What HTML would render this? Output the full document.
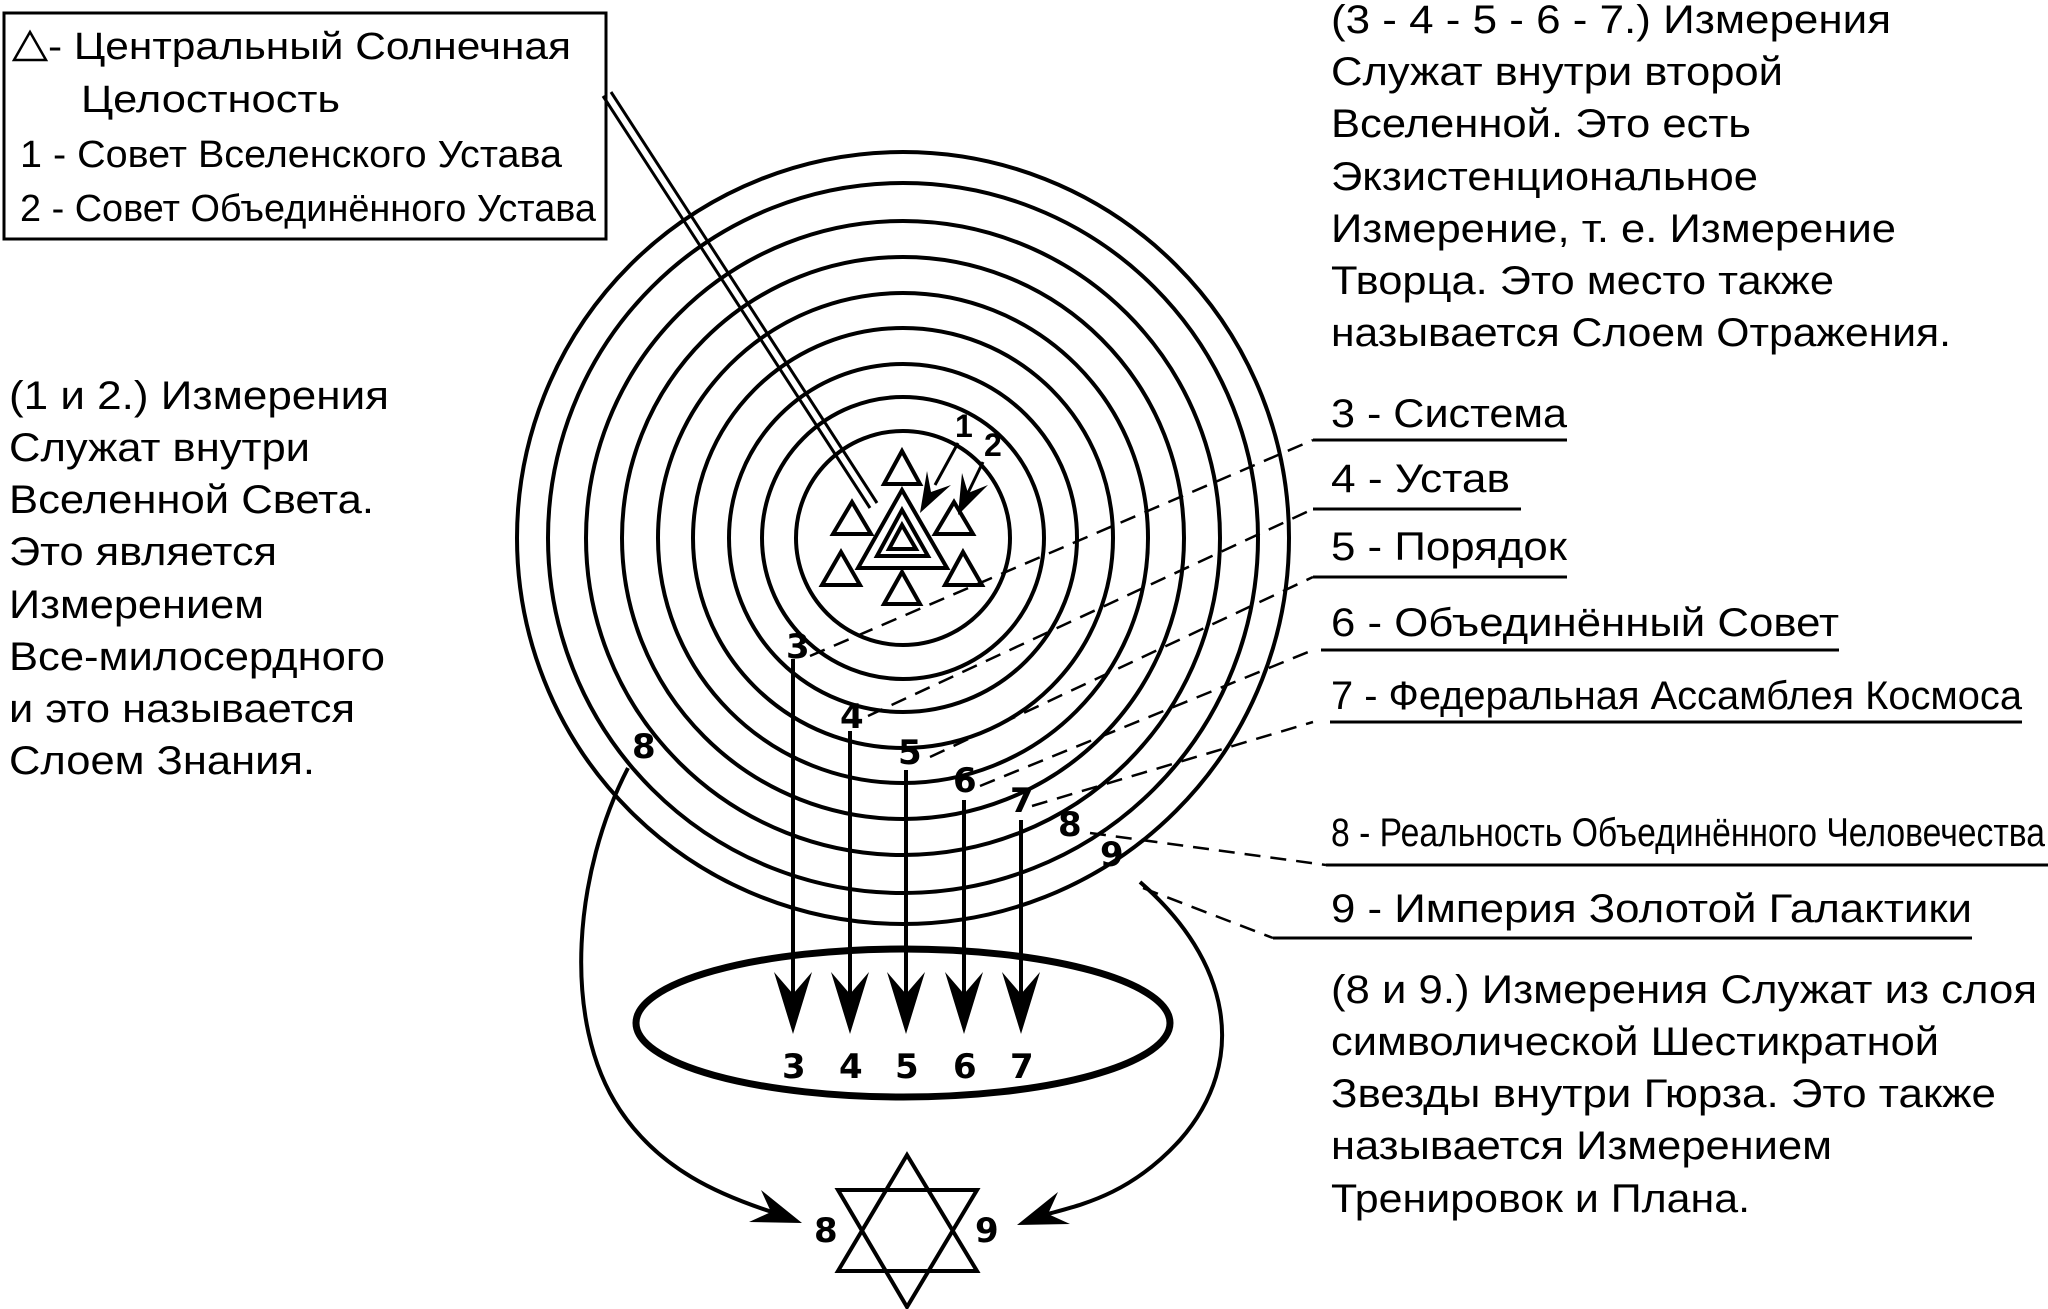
<!DOCTYPE html>
<html><head><meta charset="utf-8"><style>
html,body{margin:0;padding:0;background:#fff}
svg{display:block}
text{font-family:"Liberation Sans",sans-serif;fill:#000}
.t{font-size:40px}
.lg{font-size:38px}
.n{font-size:34px;font-weight:bold;font-family:"DejaVu Sans","Liberation Sans",sans-serif}
</style></head><body>
<svg width="2048" height="1309" viewBox="0 0 2048 1309" xmlns="http://www.w3.org/2000/svg">
<g fill="none" stroke="#000" stroke-width="4">
<circle cx="903" cy="538" r="107"/>
<circle cx="903" cy="538" r="141"/>
<circle cx="903" cy="538" r="174"/>
<circle cx="903" cy="538" r="210"/>
<circle cx="903" cy="538" r="245"/>
<circle cx="903" cy="538" r="281"/>
<circle cx="903" cy="538" r="317"/>
<circle cx="903" cy="538" r="355"/>
<circle cx="903" cy="538" r="386"/>
</g>
<rect x="4" y="13" width="602" height="226" fill="#fff" stroke="#000" stroke-width="3"/>
<polygon points="30,32 14,60 46,60" fill="none" stroke="#000" stroke-width="2.5"/>
<text class="lg" x="48" y="59" textLength="523" lengthAdjust="spacingAndGlyphs">- Центральный Солнечная</text>
<text class="lg" x="81" y="112" textLength="259" lengthAdjust="spacingAndGlyphs">Целостность</text>
<text class="lg" x="20" y="167" textLength="542" lengthAdjust="spacingAndGlyphs">1 - Совет Вселенского Устава</text>
<text class="lg" x="20" y="221" textLength="576" lengthAdjust="spacingAndGlyphs">2 - Совет Объединённого Устава</text>
<g stroke="#000" stroke-width="3">
<line x1="603" y1="96" x2="870" y2="508"/>
<line x1="611" y1="92" x2="877" y2="503"/>
</g>
<g fill="none" stroke="#000" stroke-width="4">
<polygon points="902,490 858,568 947,568"/>
<polygon points="902,510 877,556 928,556"/>
<polygon points="902,525 889,549 916,549"/>
<polygon points="902,451 884,484 920,484"/>
<polygon points="852,502 833,534 871,534"/>
<polygon points="954,502 935,534 973,534"/>
<polygon points="841,552 822,585 860,585"/>
<polygon points="963,552 945,585 982,585"/>
<polygon points="902,572 884,604 920,604"/>
</g>
<g stroke="#000" stroke-width="3"><line x1="958" y1="443" x2="935" y2="485"/><line x1="983" y1="462" x2="966" y2="497"/></g>
<polygon points="920,513 951,485 931,492 927,471" fill="#000"/>
<polygon points="958,515 988,485 968,493 962,473" fill="#000"/>
<text x="955" y="437" style="font-size:32px;font-weight:bold">1</text>
<text x="984" y="456" style="font-size:32px;font-weight:bold">2</text>
<g stroke="#000" stroke-width="2.5" stroke-dasharray="16,10" fill="none">
<line x1="810" y1="656" x2="1313" y2="440"/>
<line x1="868" y1="716" x2="1313" y2="509"/>
<line x1="930" y1="757" x2="1313" y2="577"/>
<line x1="980" y1="786" x2="1313" y2="650"/>
<line x1="1032" y1="806" x2="1313" y2="722"/>
<line x1="1090" y1="833" x2="1326" y2="865"/>
<line x1="1143" y1="888" x2="1273" y2="938"/>
</g>
<g stroke="#000" stroke-width="3">
<line x1="1313" y1="440" x2="1567" y2="440"/>
<line x1="1313" y1="509" x2="1521" y2="509"/>
<line x1="1313" y1="577" x2="1567" y2="577"/>
<line x1="1321" y1="650" x2="1839" y2="650"/>
<line x1="1330" y1="722" x2="2022" y2="722"/>
<line x1="1326" y1="865" x2="2048" y2="865"/>
<line x1="1273" y1="938" x2="1972" y2="938"/>
</g>
<text class="t" x="1331" y="427" textLength="236" lengthAdjust="spacingAndGlyphs">3 - Система</text>
<text class="t" x="1331" y="492" textLength="179" lengthAdjust="spacingAndGlyphs">4 - Устав</text>
<text class="t" x="1331" y="560" textLength="236" lengthAdjust="spacingAndGlyphs">5 - Порядок</text>
<text class="t" x="1331" y="636" textLength="508" lengthAdjust="spacingAndGlyphs">6 - Объединённый Совет</text>
<text class="t" x="1331" y="709" textLength="691" lengthAdjust="spacingAndGlyphs">7 - Федеральная Ассамблея Космоса</text>
<text class="t" x="1331" y="846" textLength="714" lengthAdjust="spacingAndGlyphs">8 - Реальность Объединённого Человечества</text>
<text class="t" x="1331" y="922" textLength="641" lengthAdjust="spacingAndGlyphs">9 - Империя Золотой Галактики</text>
<text class="t" x="1331" y="33" textLength="560" lengthAdjust="spacingAndGlyphs">(3 - 4 - 5 - 6 - 7.) Измерения</text>
<text class="t" x="1331" y="85" textLength="452" lengthAdjust="spacingAndGlyphs">Служат внутри второй</text>
<text class="t" x="1331" y="137" textLength="420" lengthAdjust="spacingAndGlyphs">Вселенной. Это есть</text>
<text class="t" x="1331" y="190" textLength="427" lengthAdjust="spacingAndGlyphs">Экзистенциональное</text>
<text class="t" x="1331" y="242" textLength="565" lengthAdjust="spacingAndGlyphs">Измерение, т. е. Измерение</text>
<text class="t" x="1331" y="294" textLength="503" lengthAdjust="spacingAndGlyphs">Творца. Это место также</text>
<text class="t" x="1331" y="346" textLength="620" lengthAdjust="spacingAndGlyphs">называется Слоем Отражения.</text>
<text class="t" x="9" y="409" textLength="380" lengthAdjust="spacingAndGlyphs">(1 и 2.) Измерения</text>
<text class="t" x="9" y="461" textLength="301" lengthAdjust="spacingAndGlyphs">Служат внутри</text>
<text class="t" x="9" y="513" textLength="365" lengthAdjust="spacingAndGlyphs">Вселенной Света.</text>
<text class="t" x="9" y="565" textLength="268" lengthAdjust="spacingAndGlyphs">Это является</text>
<text class="t" x="9" y="618" textLength="255" lengthAdjust="spacingAndGlyphs">Измерением</text>
<text class="t" x="9" y="670" textLength="376" lengthAdjust="spacingAndGlyphs">Все-милосердного</text>
<text class="t" x="9" y="722" textLength="346" lengthAdjust="spacingAndGlyphs">и это называется</text>
<text class="t" x="9" y="774" textLength="306" lengthAdjust="spacingAndGlyphs">Слоем Знания.</text>
<text class="t" x="1331" y="1003" textLength="706" lengthAdjust="spacingAndGlyphs">(8 и 9.) Измерения Служат из слоя</text>
<text class="t" x="1331" y="1055" textLength="608" lengthAdjust="spacingAndGlyphs">символической Шестикратной</text>
<text class="t" x="1331" y="1107" textLength="665" lengthAdjust="spacingAndGlyphs">Звезды внутри Гюрза. Это также</text>
<text class="t" x="1331" y="1159" textLength="501" lengthAdjust="spacingAndGlyphs">называется Измерением</text>
<text class="t" x="1331" y="1212" textLength="419" lengthAdjust="spacingAndGlyphs">Тренировок и Плана.</text>
<text class="n" x="786" y="658">3</text>
<text class="n" x="840" y="728">4</text>
<text class="n" x="898" y="764">5</text>
<text class="n" x="953" y="792">6</text>
<text class="n" x="1010" y="812">7</text>
<text class="n" x="1058" y="836">8</text>
<text class="n" x="1100" y="866">9</text>
<text class="n" x="632" y="758">8</text>
<ellipse cx="903" cy="1023" rx="267" ry="74" fill="none" stroke="#000" stroke-width="7"/>
<g stroke="#000" stroke-width="4">
<line x1="793" y1="659" x2="793" y2="995"/>
<line x1="850" y1="731" x2="850" y2="995"/>
<line x1="906" y1="770" x2="906" y2="995"/>
<line x1="964" y1="800" x2="964" y2="995"/>
<line x1="1021" y1="820" x2="1021" y2="995"/>
</g>
<g fill="#000">
<polygon points="793,1034 774,972 793,994 812,972"/>
<polygon points="850,1034 831,972 850,994 869,972"/>
<polygon points="906,1034 887,972 906,994 925,972"/>
<polygon points="964,1034 945,972 964,994 983,972"/>
<polygon points="1021,1034 1002,972 1021,994 1040,972"/>
</g>
<text class="n" x="782" y="1078">3</text>
<text class="n" x="839" y="1078">4</text>
<text class="n" x="895" y="1078">5</text>
<text class="n" x="953" y="1078">6</text>
<text class="n" x="1010" y="1078">7</text>
<g fill="none" stroke="#000" stroke-width="4">
<path d="M628,768 C575,870 560,1020 620,1110 C660,1170 720,1195 772,1212"/>
<path d="M1140,882 C1230,960 1250,1060 1180,1140 C1130,1195 1080,1205 1048,1214"/>
</g>
<polygon points="802,1223 749,1222 771,1212 761,1190" fill="#000"/>
<polygon points="1017,1225 1070,1224 1048,1214 1058,1192" fill="#000"/>
<g fill="none" stroke="#000" stroke-width="4">
<polygon points="907,1155 838,1271 977,1271"/>
<polygon points="907,1307 838,1190 977,1190"/>
</g>
<text class="n" x="814" y="1242">8</text>
<text class="n" x="975" y="1242">9</text>
</svg>
</body></html>
